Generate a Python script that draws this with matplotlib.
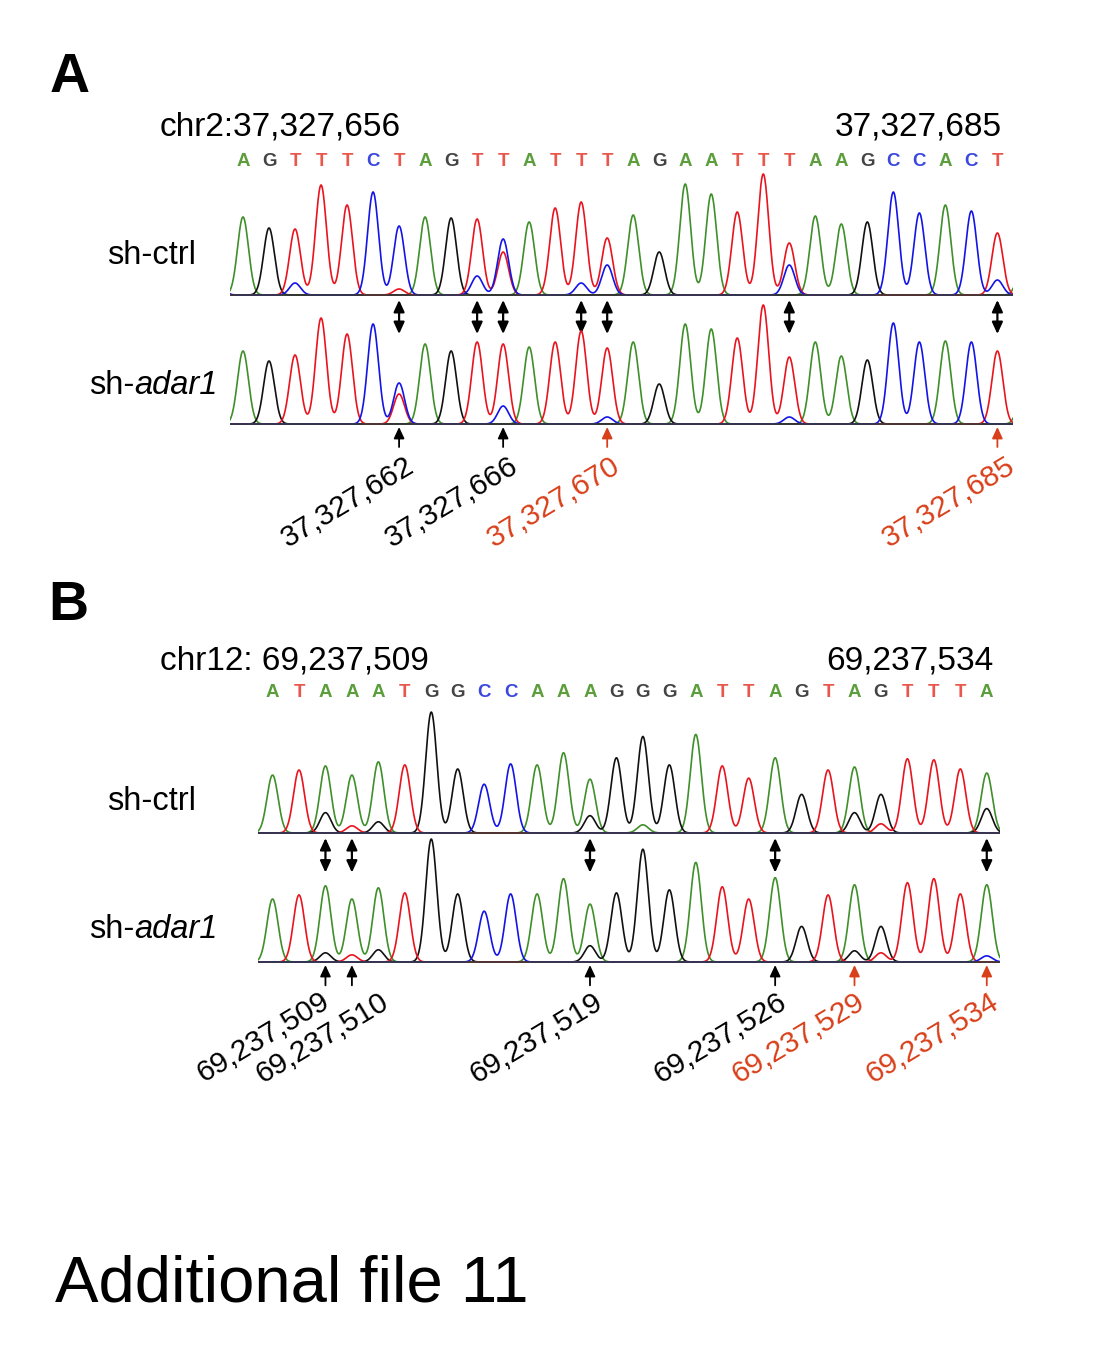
import numpy as np
import matplotlib
matplotlib.use("Agg")
import matplotlib.pyplot as plt

plt.rcParams["font.family"] = ["Liberation Sans", "DejaVu Sans"]

# ---------------- data ----------------
# panel A: chr2:37,327,656 - 37,327,685
seq_a = "AGTTTCTAGTTATTTAGAATTTAAGCCACT"
ctrl_a_calls = "AGTTTCCAGTCATTTAGAATTTAAGCCACT"
ctrl_a_heights = [78, 67, 66, 110, 90, 103, 69, 78, 77, 76, 56, 73, 87, 93, 57,
                  80, 43, 111, 101, 83, 121, 52, 79, 71, 73, 103, 82, 90, 84, 62]
ctrl_a_minor = [(0, "C", 20), (3, "C", 12), (7, "T", 6), (10, "C", 19), (11, "T", 43),
                (14, "C", 12), (15, "C", 30), (22, "C", 30), (30, "C", 15), (31, "A", 40)]
adar_a_calls = "AGTTTCCAGTTATTTAGAATTTAAGCCACT"
adar_a_heights = [73, 63, 69, 106, 90, 100, 41, 80, 73, 82, 80, 77, 82, 93, 76,
                  82, 40, 100, 95, 86, 119, 67, 82, 68, 64, 101, 82, 83, 82, 73]
adar_a_minor = [(7, "T", 30), (11, "C", 18), (15, "C", 7), (22, "C", 7), (31, "A", 35)]

a_edit_sites = [7, 10, 11, 14, 15, 22, 30]
a_marked = [7, 11, 15, 30]
a_marked_labels = ["37,327,662", "37,327,666", "37,327,670", "37,327,685"]
a_marked_red = [False, False, True, True]

# panel B: chr12: 69,237,509 - 69,237,534
seq_b = "ATAAATGGCCAAAGGGATTAGTAGTTTA"
ctrl_b_heights = [57, 62, 66, 57, 70, 67, 119, 63, 48, 68, 67, 79, 53, 74,
                  95, 67, 97, 66, 54, 74, 38, 62, 65, 38, 73, 72, 63, 59]
ctrl_b_minor = [(3, "G", 20), (4, "T", 7), (5, "G", 11), (13, "G", 17), (15, "A", 8),
                (23, "G", 20), (24, "T", 9), (28, "G", 24)]
adar_b_heights = [62, 66, 75, 62, 73, 68, 121, 67, 50, 67, 67, 82, 57, 68,
                  111, 71, 98, 74, 62, 83, 35, 66, 76, 35, 78, 82, 67, 76]
adar_b_minor = [(3, "G", 9), (4, "T", 7), (5, "G", 12), (13, "G", 16),
                (23, "G", 11), (24, "T", 9), (28, "C", 6)]

b_edit_sites = [3, 4, 13, 20, 28]
b_marked = [3, 4, 13, 20, 23, 28]
b_marked_labels = ["69,237,509", "69,237,510", "69,237,519",
                   "69,237,526", "69,237,529", "69,237,534"]
b_marked_red = [False, False, False, False, True, True]

# ---------------- style ----------------
trace_col = {"A": "#3f8f2a", "C": "#1414e6", "G": "#111111", "T": "#e8141e"}
letter_col = {"A": "#5c9e3c", "C": "#3a48e0", "G": "#444444", "T": "#e8564c"}
red = "#d8401a"

W, H = 1119, 1355
fig = plt.figure(figsize=(W / 100, H / 100), dpi=100)


def px_axes(left, top, right, bottom):
    ax = fig.add_axes([left / W, 1 - bottom / H, (right - left) / W, (bottom - top) / H])
    ax.set_axis_off()
    return ax


def draw_trace(ax, calls, heights, minor, xlim):
    sig = 0.21
    x = np.linspace(xlim[0], xlim[1], 3000)
    sig_by_base = {b: np.zeros_like(x) for b in "ACGT"}
    for i, (b, h) in enumerate(zip(calls, heights)):
        sig_by_base[b] += h * np.exp(-0.5 * ((x - i) / sig) ** 2)
    for pos, b, h in minor:
        sig_by_base[b] += h * np.exp(-0.5 * ((x - (pos - 1)) / sig) ** 2)
    for b in ["A", "G", "T", "C"]:
        ax.plot(x, sig_by_base[b], color=trace_col[b], lw=1.2, zorder=2)
    ax.axhline(0, color="#3a3a3a", lw=1.2, zorder=3)
    ax.set_xlim(*xlim)
    ax.set_ylim(-2, 125)


def double_arrows(ax, sites):
    for p in sites:
        ax.annotate("", xy=(p - 1, -5), xytext=(p - 1, -39), xycoords="data",
                    annotation_clip=False,
                    arrowprops=dict(arrowstyle="<|-|>,head_length=0.7,head_width=0.32",
                                    mutation_scale=10, color="black", lw=1.6,
                                    shrinkA=0, shrinkB=0))


def marks(ax, sites, labels, reds, dx_px, px_per_unit, y_lab):
    for p, lab, r, dx in zip(sites, labels, reds, dx_px):
        c = red if r else "black"
        ax.annotate("", xy=(p - 1, -3), xytext=(p - 1, -23), xycoords="data",
                    annotation_clip=False,
                    arrowprops=dict(arrowstyle="-|>,head_length=0.75,head_width=0.35",
                                    mutation_scale=9, color=c, lw=1.3,
                                    shrinkA=0, shrinkB=0))
        ax.text(p - 1 + dx / px_per_unit, y_lab, lab, color=c, fontsize=21.5,
                rotation=31, rotation_mode="anchor", ha="right", va="top",
                clip_on=False)


def seq_letters(ax, seq, y):
    for i, b in enumerate(seq):
        ax.text(i, y, b, color=letter_col[b], fontsize=13.5, fontweight="bold",
                ha="center", va="center", clip_on=False)


# ---------------- panel A ----------------
xlim_a = (-0.5, 29.6)
ax_a1 = px_axes(230, 170, 1013, 297)
ax_a2 = px_axes(230, 299, 1013, 426)
draw_trace(ax_a1, ctrl_a_calls, ctrl_a_heights, ctrl_a_minor, xlim_a)
draw_trace(ax_a2, adar_a_calls, adar_a_heights, adar_a_minor, xlim_a)
seq_letters(ax_a1, seq_a, 134)
double_arrows(ax_a1, a_edit_sites)
marks(ax_a2, a_marked, a_marked_labels, a_marked_red, [6, 5, 3, 8], 26.0, -28)

# ---------------- panel B ----------------
xlim_b = (-0.55, 27.5)
ax_b1 = px_axes(258, 706, 1000, 835)
ax_b2 = px_axes(258, 835, 1000, 964)
draw_trace(ax_b1, seq_b, ctrl_b_heights, ctrl_b_minor, xlim_b)
draw_trace(ax_b2, seq_b, adar_b_heights, adar_b_minor, xlim_b)
seq_letters(ax_b1, seq_b, 138)
double_arrows(ax_b1, b_edit_sites)
marks(ax_b2, b_marked, b_marked_labels, b_marked_red, [-6, 27, 3, 2, 1, 2], 26.45, -25)

# ---------------- text ----------------
fig.text(50 / W, 1 - 92 / H, "A", fontsize=40, fontweight="bold", va="baseline")
fig.text(48 / W, 1 - 620 / H, "B", fontsize=40, fontweight="bold", va="baseline")
fig.text(160 / W, 1 - 135 / H, "chr2:37,327,656", fontsize=24, va="baseline")
fig.text(1002 / W, 1 - 135 / H, "37,327,685", fontsize=24, va="baseline", ha="right")
fig.text(160 / W, 1 - 669 / H, "chr12: 69,237,509", fontsize=24, va="baseline")
fig.text(993 / W, 1 - 669 / H, "69,237,534", fontsize=24, va="baseline", ha="right")
for yc in [256, 802]:
    fig.text(152 / W, 1 - yc / H, "sh-ctrl", fontsize=23.5, ha="center", va="center")
for yc in [386, 929]:
    fig.text(134 / W, 1 - yc / H, "sh-", fontsize=23.5, ha="right", va="center")
    fig.text(134 / W, 1 - yc / H, "adar1", fontsize=23.5, style="italic",
             ha="left", va="center")
fig.text(55 / W, 1 - 1302 / H, "Additional file 11", fontsize=47, va="baseline")

fig.savefig("out.png", dpi=100, facecolor="white")
